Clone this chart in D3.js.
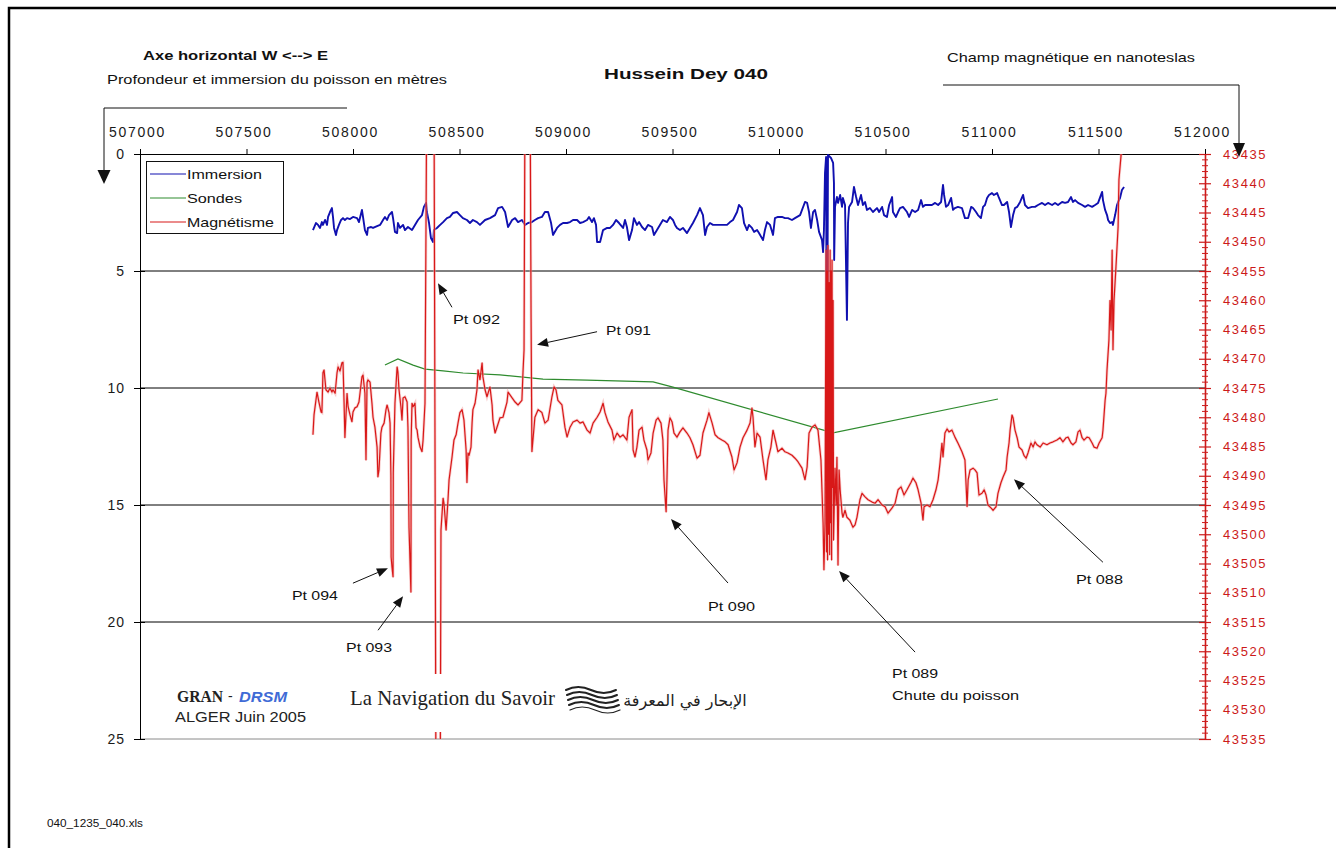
<!DOCTYPE html>
<html>
<head>
<meta charset="utf-8">
<script src="https://cdn.jsdelivr.net/npm/d3@7"></script>
<style>
  html, body { margin: 0; padding: 0; background: #fff; }
  svg { display: block; }
</style>
</head>
<body>
<script>
// ---- Axis ticks ----
const eastTicks = [507000, 507500, 508000, 508500, 509000, 509500, 510000, 510500, 511000, 511500, 512000];
const depthTicks = [0, 5, 10, 15, 20, 25];
const magTicks = [43435, 43440, 43445, 43450, 43455, 43460, 43465, 43470, 43475, 43480, 43485,
                  43490, 43495, 43500, 43505, 43510, 43515, 43520, 43525, 43530, 43535];

// ---- Series: [easting (m), depth (m)] ----
const immersion = [
[507812,3.25],[507826,2.95],[507836,3.03],[507845,3.16],[507854,2.91],[507859,3.03],[507869,2.82],[507878,3.03],[507883,2.69],[507892,2.48],[507901,2.31],[507906,2.69],[507911,3.16],[507920,3.46],[507925,3.25],[507934,3.03],[507944,2.82],[507953,2.74],[507962,2.82],[507972,2.74],[507986,2.78],[508000,2.69],[508019,2.74],[508028,2.91],[508042,2.39],[508047,2.69],[508056,3.25],[508066,3.46],[508070,3.16],[508085,3.12],[508094,3.16],[508113,3.08],[508127,3.03],[508141,2.82],[508150,2.69],[508160,2.82],[508169,2.61],[508183,2.48],[508188,2.74],[508197,3.33],[508207,3.38],[508211,2.95],[508221,3.16],[508235,3.03],[508244,3.25],[508258,3.12],[508277,3.25],[508291,3.03],[508305,2.82],[508324,2.61],[508333,2.26],[508343,2.09],[508347,2.48],[508357,2.95],[508366,3.59],[508376,3.76],[508380,3.25],[508394,3.16],[508409,3.03],[508423,2.91],[508441,2.74],[508455,2.69],[508470,2.52],[508488,2.48],[508502,2.61],[508516,2.74],[508535,2.82],[508549,2.95],[508563,2.82],[508582,2.91],[508596,3.03],[508620,2.82],[508643,2.74],[508667,2.61],[508681,2.31],[508700,2.26],[508714,2.48],[508728,3.12],[508747,2.82],[508761,2.74],[508775,2.91],[508793,2.82],[508808,3.03],[508822,2.95],[508840,2.91],[508854,2.82],[508869,2.74],[508887,2.69],[508901,2.48],[508916,2.48],[508930,2.95],[508939,3.46],[508958,3.16],[508972,3.03],[508986,2.95],[509005,2.95],[509019,2.91],[509033,2.82],[509052,2.82],[509066,2.95],[509080,2.91],[509099,2.82],[509108,2.69],[509122,2.91],[509131,2.74],[509141,3.03],[509146,3.76],[509160,3.76],[509174,3.25],[509193,3.16],[509207,3.16],[509221,3.03],[509235,2.82],[509249,2.95],[509268,3.16],[509277,2.82],[509286,3.12],[509296,3.68],[509310,3.25],[509319,2.74],[509333,3.03],[509343,2.91],[509357,3.12],[509371,3.25],[509385,3.03],[509404,3.12],[509413,3.46],[509427,3.25],[509441,3.03],[509455,2.82],[509474,2.91],[509488,2.69],[509502,2.82],[509512,3.03],[509521,3.16],[509535,3.25],[509549,3.16],[509568,3.38],[509582,3.16],[509596,2.95],[509615,2.61],[509629,2.31],[509643,2.61],[509653,3.46],[509662,3.12],[509676,2.95],[509690,3.03],[509709,3.03],[509723,3.03],[509737,3.03],[509756,3.03],[509770,2.91],[509784,2.82],[509803,2.48],[509812,2.18],[509826,2.31],[509836,2.95],[509850,3.25],[509859,3.03],[509873,3.16],[509883,3.33],[509897,3.25],[509906,3.38],[509925,3.68],[509934,3.25],[509944,2.91],[509958,3.03],[509972,3.46],[509981,2.74],[509995,2.69],[510014,2.69],[510028,2.74],[510042,2.74],[510061,2.82],[510075,2.74],[510099,2.61],[510122,2.05],[510132,2.09],[510141,2.48],[510150,3.16],[510160,2.48],[510169,2.39],[510179,2.82],[510188,3.33],[510202,3.68],[510207,4.19],[510211,3.25],[510216,0.81],[510221,0.13],[510225,12.09],[510230,0.04],[510244,0.17],[510254,0.38],[510258,1.24],[510259,4.53],[510263,2.26],[510272,1.84],[510277,2.09],[510287,1.75],[510296,2.26],[510300,1.88],[510310,2.18],[510319,7.09],[510324,2.95],[510329,2.26],[510343,2.05],[510352,1.41],[510362,1.84],[510371,2.18],[510385,1.75],[510394,2.18],[510404,2.05],[510413,2.39],[510427,2.31],[510441,2.48],[510460,2.31],[510470,2.48],[510484,2.26],[510493,2.61],[510507,2.69],[510517,2.18],[510531,1.84],[510535,2.48],[510549,2.69],[510559,2.48],[510568,2.31],[510582,2.26],[510601,2.48],[510611,2.69],[510625,2.39],[510639,2.48],[510653,2.39],[510667,1.97],[510676,2.26],[510686,2.18],[510700,2.18],[510718,2.18],[510733,2.09],[510747,2.18],[510761,2.05],[510770,1.32],[510775,1.75],[510784,2.26],[510794,2.18],[510808,1.88],[510817,2.39],[510826,2.31],[510840,2.26],[510859,2.31],[510873,2.74],[510888,2.74],[510902,2.26],[510911,2.31],[510925,2.48],[510934,2.61],[510948,2.74],[510958,2.26],[510967,2.18],[510977,1.88],[510986,1.75],[511000,1.67],[511009,1.75],[511024,1.67],[511033,1.88],[511047,2.18],[511056,2.18],[511071,2.05],[511080,2.48],[511089,3.12],[511099,2.61],[511108,2.31],[511118,2.26],[511132,2.05],[511146,1.75],[511155,2.18],[511169,2.31],[511188,2.26],[511202,2.26],[511216,2.18],[511235,2.09],[511249,2.18],[511263,2.09],[511282,2.18],[511296,2.09],[511310,2.18],[511329,2.05],[511343,2.09],[511357,2.05],[511371,1.84],[511380,2.05],[511390,1.97],[511404,2.09],[511423,2.18],[511437,2.26],[511451,2.18],[511470,2.26],[511484,2.18],[511498,2.09],[511517,1.62],[511521,1.97],[511531,2.39],[511540,2.61],[511545,2.82],[511554,2.95],[511564,2.91],[511568,3.03],[511578,2.61],[511587,2.18],[511592,2.05],[511601,1.88],[511610,1.54],[511620,1.41]
];

// Soundings: [easting (m), depth (m)]
const sondes = [
[508150,9.02],[508211,8.76],[508282,9.02],[508338,9.19],[508423,9.27],[508517,9.36],[508690,9.44],
[508892,9.62],[509099,9.66],[509409,9.74],[509502,9.96],[510254,11.92],[511028,10.47]
];

// Magnetic field: [easting (m), nanotesla]  (values beyond the axis run off the plot)
const magnetisme = [
[507812,43483.0],[507817,43479.6],[507826,43477.1],[507831,43475.7],[507840,43477.4],[507850,43479.1],[507854,43479.2],[507859,43472.4],[507864,43471.9],[507873,43475.3],[507883,43475.7],[507892,43475.0],[507901,43475.7],[507906,43475.3],[507916,43475.9],[507925,43472.4],[507930,43471.4],[507939,43472.1],[507948,43470.7],[507953,43470.6],[507958,43477.4],[507962,43483.5],[507972,43475.9],[507977,43478.2],[507986,43479.6],[507995,43480.8],[508000,43479.1],[508009,43478.4],[508019,43478.2],[508028,43477.4],[508042,43473.1],[508047,43472.8],[508056,43475.9],[508061,43487.3],[508066,43474.1],[508070,43473.6],[508080,43474.0],[508089,43477.6],[508094,43480.0],[508103,43481.7],[508113,43485.1],[508117,43490.2],[508122,43489.0],[508131,43482.7],[508136,43481.7],[508146,43481.0],[508155,43478.7],[508160,43477.9],[508169,43479.2],[508174,43481.0],[508178,43489.9],[508179,43503.9],[508183,43505.6],[508188,43507.3],[508189,43489.5],[508197,43477.6],[508207,43471.4],[508211,43472.3],[508216,43475.3],[508225,43478.2],[508230,43480.5],[508235,43476.7],[508244,43476.5],[508254,43477.4],[508258,43481.7],[508263,43498.9],[508272,43509.9],[508273,43483.9],[508277,43477.6],[508282,43478.2],[508291,43477.6],[508296,43481.8],[508301,43482.2],[508305,43483.4],[508315,43485.1],[508324,43485.9],[508329,43483.9],[508338,43477.6],[508347,43420],[508380,43420],[508390,43550],[508409,43550],[508413,43499.3],[508423,43493.8],[508427,43494.7],[508437,43499.3],[508446,43494.1],[508451,43490.7],[508465,43486.8],[508474,43483.9],[508484,43483.0],[508493,43481.0],[508502,43479.2],[508512,43478.7],[508521,43480.5],[508531,43485.6],[508535,43491.2],[508540,43486.1],[508545,43486.5],[508554,43485.1],[508559,43481.0],[508563,43478.7],[508573,43477.6],[508582,43475.3],[508587,43471.9],[508596,43473.6],[508606,43470.7],[508610,43473.1],[508620,43475.3],[508629,43476.5],[508634,43475.9],[508643,43474.8],[508653,43477.9],[508657,43480.5],[508667,43482.7],[508676,43481.7],[508690,43480.1],[508704,43480.0],[508723,43477.4],[508728,43475.7],[508747,43476.7],[508761,43477.4],[508775,43477.9],[508793,43477.1],[508798,43472.4],[508803,43468.5],[508808,43420],[508831,43420],[508836,43462.9],[508840,43485.9],[508854,43480.0],[508869,43478.7],[508887,43479.2],[508901,43481.0],[508916,43480.5],[508934,43476.5],[508944,43474.8],[508953,43475.3],[508962,43477.1],[508981,43477.9],[508995,43481.7],[509005,43483.4],[509019,43481.7],[509033,43480.8],[509052,43480.5],[509066,43481.0],[509080,43480.8],[509099,43482.2],[509113,43482.7],[509127,43481.0],[509146,43480.0],[509160,43479.1],[509174,43477.6],[509183,43479.2],[509197,43480.8],[509216,43482.2],[509225,43483.9],[509240,43482.7],[509254,43483.4],[509268,43483.0],[509286,43483.9],[509296,43480.0],[509310,43478.7],[509315,43485.6],[509324,43486.8],[509333,43485.1],[509343,43482.2],[509357,43481.7],[509366,43483.9],[509380,43485.6],[509385,43487.3],[509399,43486.1],[509409,43482.7],[509423,43480.5],[509432,43480.1],[509446,43481.0],[509455,43483.9],[509460,43490.7],[509470,43496.2],[509474,43490.7],[509479,43482.2],[509488,43480.1],[509498,43480.8],[509507,43482.7],[509521,43483.4],[509535,43482.5],[509549,43481.8],[509568,43482.7],[509582,43483.5],[509596,43484.7],[509615,43487.0],[509629,43486.5],[509643,43482.7],[509662,43480.5],[509671,43479.2],[509686,43481.0],[509700,43483.0],[509714,43483.5],[509732,43483.9],[509747,43484.2],[509761,43484.7],[509779,43486.8],[509789,43489.0],[509803,43487.8],[509817,43485.1],[509831,43483.5],[509850,43482.2],[509864,43481.0],[509873,43478.4],[509878,43480.0],[509887,43485.1],[509897,43482.7],[509911,43483.4],[509925,43487.3],[509939,43490.7],[509948,43487.3],[509962,43485.1],[509972,43482.2],[509986,43484.4],[509995,43485.9],[510014,43485.3],[510028,43485.9],[510042,43486.1],[510061,43486.5],[510075,43487.0],[510089,43487.6],[510108,43488.7],[510122,43490.7],[510132,43488.5],[510141,43482.7],[510155,43481.7],[510169,43481.3],[510183,43482.2],[510197,43487.3],[510207,43498.1],[510211,43506.1],[510216,43498.1],[510221,43451.4],[510223,43503.0],[510225,43455.0],[510228,43504.4],[510230,43450.6],[510233,43500.0],[510235,43457.0],[510238,43503.5],[510240,43451.4],[510242,43498.0],[510244,43455.0],[510247,43504.4],[510249,43453.1],[510251,43492.0],[510254,43460.0],[510256,43501.0],[510258,43497.6],[510263,43488.7],[510268,43495.0],[510272,43486.8],[510277,43505.3],[510282,43489.0],[510287,43492.4],[510296,43496.4],[510300,43497.1],[510310,43495.9],[510319,43497.1],[510333,43497.6],[510347,43498.8],[510357,43498.4],[510366,43497.1],[510380,43494.1],[510390,43493.0],[510404,43493.6],[510418,43494.1],[510437,43494.5],[510451,43494.7],[510465,43494.1],[510484,43495.0],[510498,43495.3],[510512,43496.4],[510531,43495.5],[510545,43494.7],[510559,43492.4],[510573,43491.9],[510587,43493.3],[510601,43492.4],[510620,43491.1],[510629,43490.4],[510643,43491.2],[510653,43492.4],[510667,43494.7],[510676,43497.6],[510681,43495.3],[510695,43495.0],[510709,43495.3],[510723,43494.1],[510737,43492.4],[510747,43490.7],[510756,43487.8],[510765,43484.4],[510770,43486.8],[510779,43482.7],[510789,43482.0],[510798,43482.5],[510812,43482.2],[510826,43483.4],[510840,43484.4],[510859,43485.9],[510873,43487.3],[510883,43495.3],[510888,43490.7],[510897,43489.0],[510911,43488.7],[510920,43489.0],[510930,43489.5],[510939,43493.3],[510953,43493.0],[510963,43492.4],[510972,43493.3],[510981,43495.0],[510995,43495.5],[511005,43495.9],[511019,43495.3],[511028,43493.0],[511042,43491.2],[511052,43490.2],[511066,43489.0],[511071,43486.8],[511080,43484.4],[511085,43482.2],[511094,43479.6],[511099,43480.1],[511108,43482.2],[511118,43483.5],[511127,43485.1],[511141,43485.6],[511150,43486.5],[511160,43487.0],[511169,43486.1],[511183,43484.4],[511193,43485.1],[511202,43484.2],[511211,43484.7],[511226,43485.1],[511240,43484.4],[511258,43484.7],[511272,43484.4],[511287,43484.2],[511305,43483.9],[511319,43483.5],[511333,43484.2],[511348,43483.5],[511357,43483.4],[511371,43484.4],[511380,43484.7],[511394,43484.2],[511404,43482.5],[511413,43482.2],[511423,43483.5],[511432,43483.9],[511446,43483.4],[511456,43483.5],[511470,43484.4],[511479,43485.1],[511493,43485.3],[511503,43484.4],[511517,43483.5],[511521,43482.2],[511531,43477.1],[511535,43475.9],[511540,43471.9],[511549,43466.8],[511554,43460.0],[511559,43465.1],[511564,43451.4],[511568,43468.5],[511573,43460.0],[511582,43454.3],[511592,43447.5],[511596,43439.4],[511606,43435.2],[511610,43425]
];

// Point annotations: arrow tip in data units, tail and label as pixel offsets from the tip
const annotations = [
  { lines: ["Pt 092"], tip: [508399, 43457.1], tail: [14, 24], text: [15, 36], widths: [47] },
  { lines: ["Pt 091"], tip: [508864, 43467.6], tail: [60, -13], text: [69, -15], widths: [45] },
  { lines: ["Pt 094"], tip: [508164, 43505.8], tail: [-35, 15], text: [-96, 27], widths: [46] },
  { lines: ["Pt 093"], tip: [508235, 43510.6], tail: [-25, 34], text: [-57, 51], widths: [46] },
  { lines: ["Pt 090"], tip: [509493, 43497.4], tail: [57, 64], text: [37, 87], widths: [47] },
  { lines: ["Pt 089", "Chute du poisson"], tip: [510282, 43506.3], tail: [76, 81], text: [53, 102], widths: [46, 127] },
  { lines: ["Pt 088"], tip: [511103, 43490.6], tail: [89, 83], text: [62, 100], widths: [47] }
];

const legendItems = [
  { name: "Immersion", color: "#1010b0", width: 75 },
  { name: "Sondes", color: "#2e8b2e", width: 55 },
  { name: "Magnétisme", color: "#d81818", width: 87 }
];

// ---- Layout ----
const W = 1336, H = 848;
const plotL = 140, plotR = 1205, plotT = 154, plotB = 739;
const SANS = "'Liberation Sans', Arial, Helvetica, sans-serif";
const SERIF = "'Liberation Serif', 'Times New Roman', serif";

const x = d3.scaleLinear().domain([507000, 512000]).range([plotL, plotR]);
const yD = d3.scaleLinear().domain([0, 25]).range([plotT, plotB]);
const yM = d3.scaleLinear().domain([43435, 43535]).range([plotT, plotB]);

const svg = d3.select("body").append("svg")
  .attr("width", W).attr("height", H)
  .attr("font-family", SANS);

svg.append("rect").attr("width", W).attr("height", H).attr("fill", "#fff");

// outer frame of the sheet
svg.append("rect").attr("x", 9).attr("y", 8).attr("width", W + 20).attr("height", H + 20)
  .attr("fill", "none").attr("stroke", "#000").attr("stroke-width", 2.5);

// horizontal gridlines
svg.append("g").selectAll("line").data(depthTicks.filter(d => d > 0))
  .join("line")
  .attr("x1", plotL).attr("x2", plotR)
  .attr("y1", d => yD(d)).attr("y2", d => yD(d))
  .attr("stroke", d => d === 25 ? "#8a8a8a" : "#000").attr("stroke-width", 1);

// top axis: easting
const gx = svg.append("g").attr("transform", `translate(0,${plotT})`)
  .call(d3.axisTop(x).tickValues(eastTicks).tickSize(5).tickSizeOuter(0).tickPadding(12).tickFormat(d3.format("d")));
gx.attr("font-family", SANS).attr("font-size", 14);
gx.select(".domain").attr("stroke", "#000");
gx.selectAll(".tick line").attr("stroke", "#000");
gx.selectAll(".tick text").attr("fill", "#1a1a1a").attr("letter-spacing", "1.7px").attr("dx", -3);

// left axis: depth
const gl = svg.append("g").attr("transform", `translate(${plotL},0)`)
  .call(d3.axisLeft(yD).tickValues(depthTicks).tickSize(6).tickSizeOuter(0).tickPadding(9));
gl.attr("font-family", SANS).attr("font-size", 14);
gl.select(".domain").attr("stroke", "#000");
gl.selectAll(".tick line").attr("stroke", "#000").attr("x1", 5);
gl.selectAll(".tick text").attr("fill", "#1a1a1a").attr("letter-spacing", "1px");

// right axis: magnetic field
const red = "#cc1a1a";
const gr = svg.append("g").attr("transform", `translate(${plotR},0)`)
  .call(d3.axisRight(yM).tickValues(magTicks).tickSize(6).tickSizeOuter(0).tickPadding(12).tickFormat(d3.format("d")));
gr.attr("font-family", SANS).attr("font-size", 13);
gr.select(".domain").attr("stroke", red).attr("stroke-width", 1.6);
gr.selectAll(".tick line").attr("stroke", red).attr("x1", -6).attr("stroke-width", 1.2);
gr.selectAll(".tick text").attr("fill", red).attr("letter-spacing", "1.6px");
gr.append("g").selectAll("line")
  .data(d3.range(43435, 43536).filter(v => v % 5 !== 0))
  .join("line")
  .attr("x1", -3).attr("x2", 3)
  .attr("y1", d => yM(d)).attr("y2", d => yM(d))
  .attr("stroke", red).attr("stroke-width", 1);

// ---- Series ----
svg.append("clipPath").attr("id", "plot-clip")
  .append("rect").attr("x", plotL).attr("y", plotT).attr("width", plotR - plotL).attr("height", plotB - plotT);
const plot = svg.append("g").attr("clip-path", "url(#plot-clip)");

const lineD = d3.line().x(d => x(d[0])).y(d => yD(d[1]));
const lineM = d3.line().x(d => x(d[0])).y(d => yM(d[1]));

plot.append("path").datum(immersion).attr("d", lineD)
  .attr("fill", "none").attr("stroke", "#1010b0").attr("stroke-width", 1.9).attr("stroke-linejoin", "round");
plot.append("path").datum(sondes).attr("d", lineD)
  .attr("fill", "none").attr("stroke", "#2e8b2e").attr("stroke-width", 1.2);
plot.append("path").datum(magnetisme).attr("d", lineM)
  .attr("fill", "none").attr("stroke", "#f2a6a6").attr("stroke-width", 2.8).attr("stroke-opacity", 0.55);
plot.append("path").datum(magnetisme).attr("d", lineM)
  .attr("fill", "none").attr("stroke", "#d81818").attr("stroke-width", 1.2).attr("stroke-linejoin", "round");

// ---- Legend ----
const lg = svg.append("g");
lg.append("rect").attr("x", 146.5).attr("y", 161.5).attr("width", 137).attr("height", 72)
  .attr("fill", "#fff").attr("stroke", "#111").attr("stroke-width", 1);
legendItems.forEach((it, i) => {
  const cy = 174 + i * 24;
  lg.append("line").attr("x1", 150).attr("x2", 186).attr("y1", cy).attr("y2", cy)
    .attr("stroke", it.color).attr("stroke-width", 1.2);
  lg.append("text").attr("x", 187).attr("y", cy + 5).attr("font-size", 13).attr("fill", "#111")
    .attr("textLength", it.width).attr("lengthAdjust", "spacingAndGlyphs").text(it.name);
});

// ---- Annotations ----
function arrow(g, x1, y1, x2, y2) {
  const a = Math.atan2(y2 - y1, x2 - x1), L = 11, hw = 4.5;
  const bx = x2 - L * Math.cos(a), by = y2 - L * Math.sin(a);
  g.append("line").attr("x1", x1).attr("y1", y1).attr("x2", bx).attr("y2", by)
    .attr("stroke", "#111").attr("stroke-width", 1);
  g.append("polygon").attr("fill", "#111").attr("points", [
    [x2, y2],
    [bx + hw * Math.sin(a), by - hw * Math.cos(a)],
    [bx - hw * Math.sin(a), by + hw * Math.cos(a)]
  ].map(p => p.join(",")).join(" "));
}
const ag = svg.append("g");
annotations.forEach(an => {
  const tx = x(an.tip[0]), ty = yM(an.tip[1]);
  arrow(ag, tx + an.tail[0], ty + an.tail[1], tx, ty);
  an.lines.forEach((ln, i) => {
    ag.append("text").attr("x", tx + an.text[0]).attr("y", ty + an.text[1] + 5 + i * 22)
      .attr("font-size", 13).attr("fill", "#111")
      .attr("textLength", an.widths[i]).attr("lengthAdjust", "spacingAndGlyphs").text(ln);
  });
});

// ---- Titles ----
function label(txt, xx, yy, size, len, opts = {}) {
  const t = svg.append("text").attr("x", xx).attr("y", yy).attr("font-size", size)
    .attr("fill", opts.fill || "#111").text(txt);
  if (len) t.attr("textLength", len).attr("lengthAdjust", "spacingAndGlyphs");
  if (opts.weight) t.attr("font-weight", opts.weight);
  if (opts.family) t.attr("font-family", opts.family);
  if (opts.style) t.attr("font-style", opts.style);
  return t;
}
label("Axe horizontal W <--> E", 143, 60, 13, 185, { weight: "bold" });
label("Profondeur et immersion du poisson en mètres", 107, 84, 13, 340);
label("Hussein Dey 040", 604, 79, 15, 164, { weight: "bold" });
label("Champ magnétique en nanoteslas", 947, 62, 13, 248);
label("040_1235_040.xls", 47, 827, 10, 96);

// axis-title brackets with arrowheads
const br = svg.append("g").attr("fill", "none").attr("stroke", "#111").attr("stroke-width", 1);
br.append("path").attr("d", "M347,108H104V172");
br.append("path").attr("d", "M943,85H1239V146");
svg.append("polygon").attr("fill", "#111").attr("points", "97.5,170 110.5,170 104,184");
svg.append("polygon").attr("fill", "#111").attr("points", "1233,143 1245,143 1239,157");

// ---- Credits block ----
svg.append("rect").attr("x", 345).attr("y", 674).attr("width", 405).attr("height", 58).attr("fill", "#fff");
label("GRAN", 177, 702, 16, 46, { weight: "bold", family: SERIF, fill: "#222" });
label("-", 228, 701, 14, null, { fill: "#222" });
label("DRSM", 239, 702, 15, 48, { weight: "bold", style: "italic", fill: "#3f6bd6" });
label("ALGER Juin 2005", 175, 722, 14, 131, { fill: "#222" });
label("La Navigation du Savoir", 350, 705, 21, 205, { family: SERIF, fill: "#222" });

// wave emblem
const wv = svg.append("g").attr("fill", "none").attr("stroke", "#222").attr("stroke-linecap", "round");
[690, 695, 700, 705, 710].forEach((yy, i) => {
  wv.append("path")
    .attr("d", `M${566 + i},${yy} q12,-6 25,0 t25,0`)
    .attr("stroke-width", i === 4 ? 1.2 : 2);
});

svg.append("text").attr("x", 685).attr("y", 706).attr("text-anchor", "middle")
  .attr("font-family", "'DejaVu Sans', sans-serif").attr("font-size", 16).attr("fill", "#222")
  .attr("direction", "rtl")
  .text("الإبحار في المعرفة");
</script>
</body>
</html>
